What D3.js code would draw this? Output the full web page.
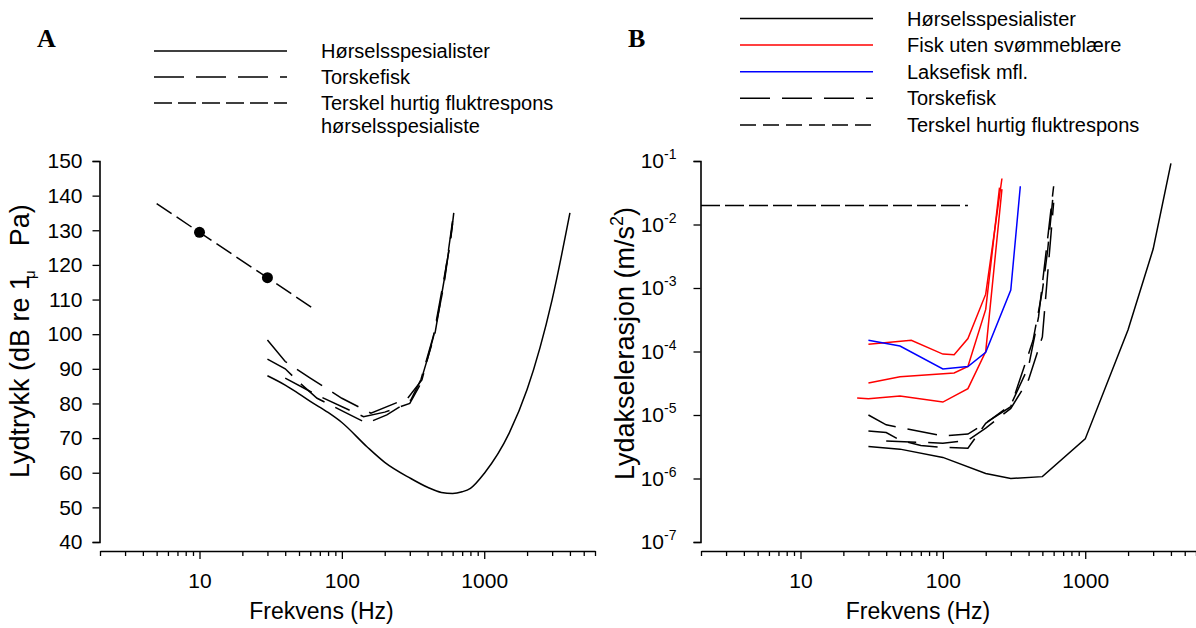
<!DOCTYPE html>
<html><head><meta charset="utf-8">
<script src="https://cdn.jsdelivr.net/npm/d3@7"></script>
<style>
body{margin:0;background:#fff;}
svg{display:block;font-family:"Liberation Sans",Arial,sans-serif;}
</style></head>
<body><svg id="c" width="1196" height="628"></svg>
<script>
// ---------- data ----------
const xMajorTicks = [10, 100, 1000];
const xTickLabels = ["10", "100", "1000"];
const yTicksA = [40, 50, 60, 70, 80, 90, 100, 110, 120, 130, 140, 150];
const yExpB = [-7, -6, -5, -4, -3, -2, -1];

const legendA = ["Hørselsspesialister", "Torskefisk", "Terskel hurtig fluktrespons", "hørselsspesialiste"];
const legendB = ["Hørselsspesialister", "Fisk uten svømmeblære", "Laksefisk mfl.", "Torskefisk", "Terskel hurtig fluktrespons"];

// Panel A (dB re 1 µPa)
const hearingA = [[30,88],[40,85.3],[50,82.8],[60,80.6],[80,77.4],[100,74.5],[150,67.5],[200,63],[300,58.5],[400,55.8],[500,54.3],[600,54],[700,54.5],[800,55.5],[1000,59.8],[1500,71.5],[2000,84],[3000,110],[4000,135]];
const codA1 = [[30,98.3],[40,92.1],[60,87.3],[100,81.5],[160,77.2],[290,81.5],[365,86.8],[440,99.3],[505,112.8],[577,126.2],[611,135]];
const codA2 = [[30,92.8],[40,90],[51,85.8],[67,81.5],[108,77.2],[150,74.3],[207,76.7],[305,81],[360,87],[450,101],[520,114],[600,132]];
const codA3 = [[40,87.3],[67,82.4],[142,76.2],[200,77.5],[300,80],[350,85],[450,100],[530,117],[610,135]];
const escapeA = [[5,137.7],[10,129.4],[30,116.3],[63,107.4]];
const escapeDotsA = [[10,129.4],[30,116.3]];

// Panel B (m/s^2)
const hearingB = [[30,3.2e-6],[50,2.9e-6],[100,2.15e-6],[200,1.2e-6],[300,1.0e-6],[500,1.07e-6],[1000,4.2e-6],[2000,2.2e-4],[3000,4.1e-3],[4000,0.092]];
const noBladder1 = [[30,1.3e-4],[60,1.5e-4],[100,9.1e-5],[120,8.9e-5],[150,1.6e-4],[200,8e-4],[260,0.053]];
const noBladder2 = [[30,3.2e-5],[50,4.0e-5],[120,4.6e-5],[150,5.8e-5],[200,4.6e-4],[250,0.038]];
const noBladder3 = [[25,1.85e-5],[30,1.8e-5],[50,2.0e-5],[100,1.6e-5],[150,2.6e-5],[200,1.0e-4],[260,0.036]];
const salmon = [[30,1.5e-4],[50,1.22e-4],[100,5.3e-5],[150,5.8e-5],[200,9.7e-5],[300,9.3e-4],[350,0.04]];
const codB1 = [[30,1.0e-5],[40,7.0e-6],[100,4.7e-6],[150,5.0e-6],[200,7.5e-6],[300,1.35e-5],[430,1.5e-4],[500,9e-4],[545,4e-3],[600,0.035]];
const codB2 = [[30,5.6e-6],[40,5.3e-6],[50,4.0e-6],[70,3.3e-6],[100,3.1e-6],[150,3.0e-6],[200,7.4e-6],[300,1.44e-5],[400,5.8e-5],[470,3.5e-4],[550,7.3e-3],[600,0.04]];
const codB3 = [[40,3.9e-6],[100,3.6e-6],[150,4.0e-6],[200,6.2e-6],[300,1.27e-5],[400,3.6e-5],[500,1.7e-4],[600,0.022]];
const escapeB = [[2,0.02],[150,0.02]];

// ---------- drawing ----------
const svg = d3.select("#c");
const allX = [];
for (let e = 0; e <= 3; e++) for (let m = 1; m <= 9; m++) { const v = m * Math.pow(10, e); if (v >= 2 && v <= 6000) allX.push(v); }

const DASH_COD = "30,12", DASH_ESC = "18,6";

function xAxis(g, x, y0) {
  const ax = d3.axisBottom(x).tickValues(allX).tickSizeOuter(0)
    .tickFormat(d => { const i = xMajorTicks.indexOf(d); return i >= 0 ? xTickLabels[i] : ""; });
  const a = g.append("g").attr("transform", `translate(0,${y0})`).call(ax);
  a.select(".domain").attr("stroke", "#000").attr("stroke-width", 1.6);
  a.selectAll(".tick line").attr("stroke", "#000").attr("stroke-width", 1.3)
    .attr("y2", d => xMajorTicks.includes(d) ? 8 : 5);
  a.selectAll(".tick text").attr("y", 37).attr("dy", null).attr("font-size", 21)
    .attr("font-family", "Liberation Sans, Arial, sans-serif").attr("fill", "#000");
}

function drawLine(g, data, x, y, color, dash, smooth) {
  const gen = d3.line().x(d => x(d[0])).y(d => y(d[1]));
  if (smooth) gen.curve(d3.curveMonotoneX);
  g.append("path").datum(data)
    .attr("fill", "none").attr("stroke", color).attr("stroke-width", 1.5)
    .attr("stroke-dasharray", dash || null)
    .attr("d", gen);
}

// ===== Panel A =====
const gA = svg.append("g");
const xA = d3.scaleLog().domain([2, 6000]).range([100, 595]);
const yA = d3.scaleLinear().domain([40, 150]).range([542, 161]);

const ayA = gA.append("g").attr("transform", "translate(99.5,0)")
  .call(d3.axisLeft(yA).tickValues(yTicksA).tickSizeOuter(0).tickSize(7).tickPadding(10));
ayA.select(".domain").attr("stroke", "#000").attr("stroke-width", 1.6);
ayA.selectAll(".tick line").attr("stroke", "#000").attr("stroke-width", 1.3);
ayA.selectAll(".tick text").attr("font-size", 21).attr("font-family", "Liberation Sans, Arial, sans-serif").attr("fill", "#000");
xAxis(gA, xA, 551);

gA.append("text").attr("x", 321.5).attr("y", 619).attr("text-anchor", "middle").attr("font-size", 23).text("Frekvens (Hz)");
const ylabA = gA.append("text").attr("transform", "translate(29,478) rotate(-90)").attr("font-size", 27);
ylabA.append("tspan").text("Lydtrykk (dB re 1");
ylabA.append("tspan").attr("font-size", 15).attr("dx", -4).attr("dy", 6).text("μ");
ylabA.append("tspan").attr("dx", 24).attr("dy", -6).text("Pa)");

drawLine(gA, hearingA, xA, yA, "#000", null, true);
drawLine(gA, codA1, xA, yA, "#000", DASH_COD);
drawLine(gA, codA2, xA, yA, "#000", DASH_COD);
drawLine(gA, codA3, xA, yA, "#000", DASH_COD);
drawLine(gA, escapeA, xA, yA, "#000", DASH_ESC);
gA.selectAll("circle.dot").data(escapeDotsA).enter().append("circle")
  .attr("cx", d => xA(d[0])).attr("cy", d => yA(d[1])).attr("r", 5.5).attr("fill", "#000");

gA.append("text").attr("x", 37).attr("y", 47).attr("font-family", "Liberation Serif, Times New Roman, serif")
  .attr("font-weight", "bold").attr("font-size", 26).text("A");

const legDashA = [null, DASH_COD, DASH_ESC];
legendA.slice(0, 3).forEach((t, i) => {
  const yy = 51 + i * 26;
  gA.append("line").attr("x1", 154).attr("x2", 287).attr("y1", yy).attr("y2", yy)
    .attr("stroke", "#000").attr("stroke-width", 1.5).attr("stroke-dasharray", legDashA[i]);
  gA.append("text").attr("x", 321).attr("y", yy + 7).attr("font-size", 20).text(t);
});
gA.append("text").attr("x", 321).attr("y", 51 + 3 * 26 + 4).attr("font-size", 20).text(legendA[3]);

// ===== Panel B =====
const gB = svg.append("g");
const xB = d3.scaleLog().domain([2, 6000]).range([701, 1196]);
const yB = d3.scaleLog().domain([1e-7, 1e-1]).range([542, 161]);

const ayB = gB.append("g").attr("transform", "translate(700.5,0)")
  .call(d3.axisLeft(yB).tickValues(yExpB.map(e => Math.pow(10, e))).tickSizeOuter(0).tickSize(7).tickPadding(12).tickFormat(""));
ayB.select(".domain").attr("stroke", "#000").attr("stroke-width", 1.6);
ayB.selectAll(".tick line").attr("stroke", "#000").attr("stroke-width", 1.3);
ayB.selectAll(".tick text").each(function(d, i) {
  const t = d3.select(this).attr("font-size", 21).attr("fill", "#000").attr("x", -24);
  t.append("tspan").text("10");
  t.append("tspan").attr("font-size", 14).attr("dy", -9).text(String(yExpB[i]));
});
xAxis(gB, xB, 551);

gB.append("text").attr("x", 918).attr("y", 619).attr("text-anchor", "middle").attr("font-size", 23).text("Frekvens (Hz)");
const ylabB = gB.append("text").attr("transform", "translate(634,480) rotate(-90)").attr("font-size", 27);
ylabB.append("tspan").text("Lydakselerasjon (m/s");
ylabB.append("tspan").attr("font-size", 18).attr("dy", -11).text("2");
ylabB.append("tspan").attr("dy", 11).text(")");

drawLine(gB, escapeB, xB, yB, "#000", "19,5");
drawLine(gB, hearingB, xB, yB, "#000");
drawLine(gB, noBladder1, xB, yB, "#ff0000");
drawLine(gB, noBladder2, xB, yB, "#ff0000");
drawLine(gB, noBladder3, xB, yB, "#ff0000");
drawLine(gB, salmon, xB, yB, "#0000ff");
drawLine(gB, codB1, xB, yB, "#000", DASH_COD);
drawLine(gB, codB2, xB, yB, "#000", DASH_COD);
drawLine(gB, codB3, xB, yB, "#000", DASH_COD);

gB.append("text").attr("x", 628).attr("y", 47).attr("font-family", "Liberation Serif, Times New Roman, serif")
  .attr("font-weight", "bold").attr("font-size", 26).text("B");

const legColB = ["#000", "#ff0000", "#0000ff", "#000", "#000"];
const legDashB = [null, null, null, DASH_COD, "16,7"];
legendB.forEach((t, i) => {
  const yy = 18.5 + i * 26.6;
  gB.append("line").attr("x1", 740).attr("x2", 873).attr("y1", yy).attr("y2", yy)
    .attr("stroke", legColB[i]).attr("stroke-width", 1.5).attr("stroke-dasharray", legDashB[i]);
  gB.append("text").attr("x", 907).attr("y", yy + 7).attr("font-size", 20).text(t);
});
</script></body></html>
